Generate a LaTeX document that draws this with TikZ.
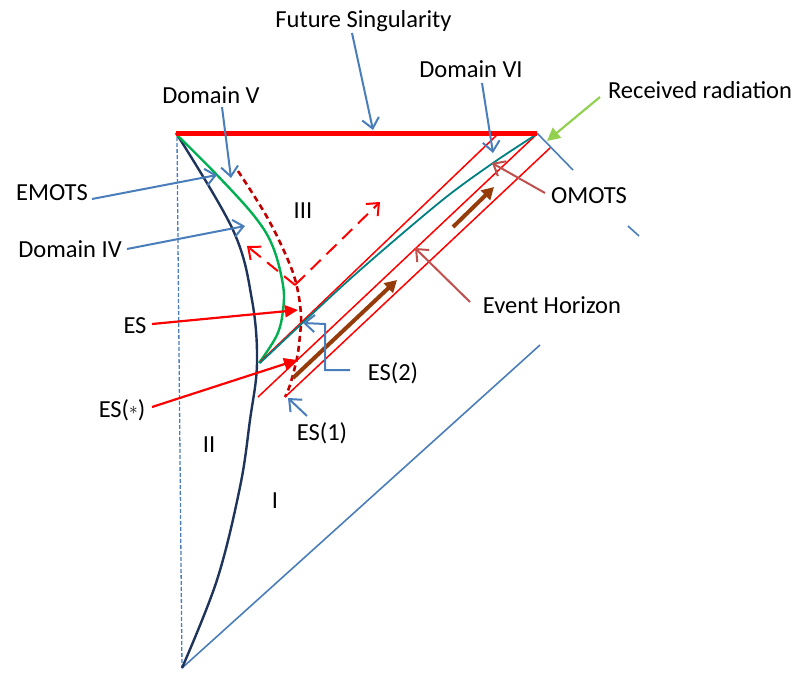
\documentclass[tikz,border=0pt]{standalone}
\usepackage{fontspec}
\setmainfont{Carlito}
\usetikzlibrary{arrows.meta,calc}
\definecolor{cblue}{RGB}{74,126,187}
\definecolor{cnavy}{RGB}{31,52,90}
\definecolor{cgreen}{RGB}{0,176,80}
\definecolor{cteal}{RGB}{0,128,128}
\definecolor{cdred}{RGB}{192,0,0}
\definecolor{cbrown}{RGB}{150,60,10}
\definecolor{cpink}{RGB}{192,80,77}
\definecolor{clime}{RGB}{146,208,80}
\begin{document}
\begin{tikzpicture}[x=1pt,y=-1pt,
  lbl/.style={font=\fontsize{24.5}{29}\selectfont, inner sep=0pt, anchor=base, text=black},
  callout/.style={draw=cblue, line width=2pt, -{Straight Barb[length=10pt,width=17pt]}},
  pinkcall/.style={draw=cpink, line width=2pt, -{Straight Barb[length=10pt,width=17pt]}},
  redcall/.style={draw=red, line width=2.2pt, -{Triangle[length=13pt,width=12pt]}},
  limecall/.style={draw=clime, line width=2.2pt, -{Triangle[length=13pt,width=13pt]}},
  brownarr/.style={draw=cbrown, line width=4pt, -{Triangle[length=12pt,width=13pt]}},
  ray/.style={draw=red, line width=1.5pt},
  reddash/.style={draw=red, line width=2pt, dash pattern=on 14pt off 8pt, -{Straight Barb[length=10pt,width=17pt]}},
  thinblue/.style={draw=cblue, line width=1.6pt}
]
\useasboundingbox (0,0) rectangle (807,673);

% key points
\coordinate (top) at (176,133);
\coordinate (topR) at (537,133);
\coordinate (bot) at (182,668);

% labels
\node[lbl] (fs) at (363.5,27) {Future Singularity};
\node[lbl] (d6) at (471,77) {Domain VI};
\node[lbl] (rr) at (700,98) {Received radiation};
\node[lbl] (d5) at (211,103) {Domain V};
\node[lbl] (emots) at (52,200) {EMOTS};
\node[lbl] (omots) at (589,203) {OMOTS};
\node[lbl] (r3) at (303,218) {III};
\node[lbl] (d4) at (70,257) {Domain IV};
\node[lbl] (eh) at (552,313) {Event Horizon};
\node[lbl] (es) at (135,333) {ES};
\node[lbl] (es2) at (393,380) {ES(2)};
\node[lbl] (esx) at (122,417) {ES(\raisebox{0.2ex}{\fontsize{16}{16}\selectfont$\ast$})};
\node[lbl] (es1) at (322,440) {ES(1)};
\node[lbl] (r2) at (209,452) {II};
\node[lbl] (r1) at (275,508) {I};

% dashed vertical
\draw[draw=cblue, line width=1.3pt, dash pattern=on 4pt off 2pt] (177,137) -- (bot);
% bottom blue line
\coordinate (blueEnd) at (540,345);
\draw[thinblue] (bot) -- (blueEnd);
% blue outer null line pieces
\coordinate (bq1) at (573,170);
\coordinate (bq2) at (628,226);
\coordinate (bq3) at (639,236);
\draw[thinblue] (topR) -- (bq1);
\draw[thinblue] (bq2) -- (bq3);

% navy curve
\draw[cnavy, line width=2.4pt] plot[smooth, tension=0.6] coordinates {(176,133) (233,230) (252,300) (257,363) (250,420) (240,487) (217,580) (182,668)};

% green curve
\coordinate (gEnd) at (259,363);
\draw[cgreen, line width=2.4pt] plot[smooth, tension=0.6] coordinates {(177,135) (217,175) (255,217) (273,247) (283,285) (283,310) (277,335) (259,363)};

% dark red dashed curve
\draw[cdred, line width=2.6pt, dash pattern=on 6pt off 4pt] plot[smooth, tension=0.6] coordinates {(238,171) (267,217) (288,260) (297,287) (301,315) (300,335) (297,358) (290,385) (285,397)};

% red rays
\coordinate (L1a) at (260,362);
\coordinate (L1b) at (499,133);
\coordinate (R1a) at (258,397);
\coordinate (R1b) at (537,134);
\coordinate (L4a) at (285,397);
\coordinate (L4b) at (550,148);
\draw[ray] (L1a) -- (L1b);
\draw[ray] (R1a) -- (R1b);
\draw[ray] (L4a) -- (L4b);

% teal curve
\draw[cteal, line width=1.8pt] plot[smooth, tension=0.5] coordinates {(260,363) (350,279) (440,202) (493,163) (537,134)};

% future singularity
\draw[red, line width=5pt] (top) -- (topR);

% brown arrows
\coordinate (b1a) at (293,378);
\coordinate (b1b) at (397,280);
\coordinate (b2a) at (453,227);
\coordinate (b2b) at (494,187);
\draw[brownarr] (b1a) -- (b1b);
\draw[brownarr] (b2a) -- (b2b);

% red dashed arrows
\coordinate (rd0) at (295,285);
\coordinate (rdR) at (380,202);
\coordinate (rdL) at (247,246);
\draw[reddash] (rd0) -- (rdR);
\draw[reddash] (rd0) -- (rdL);

% callouts
\coordinate (fsA) at (352,33);   \coordinate (fsB) at (373,130);
\draw[callout] (fsA) -- (fsB);
\coordinate (d6A) at (482,83);   \coordinate (d6B) at (493,153);
\draw[callout] (d6A) -- (d6B);
\coordinate (d5A) at (222,107);  \coordinate (d5B) at (231,178);
\draw[callout] (d5A) -- (d5B);
\coordinate (emA) at (92,199);   \coordinate (emB) at (217,175);
\draw[callout] (emA) -- (emB);
\coordinate (d4A) at (127,249);  \coordinate (d4B) at (245,226);
\draw[callout] (d4A) -- (d4B);
\coordinate (e1A) at (307,416);  \coordinate (e1B) at (288,398);
\draw[callout] (e1A) -- (e1B);
\coordinate (e2A) at (350,370);  \coordinate (e2B) at (303,323);
\draw[callout] (e2A) -- (325,370) -- (325,324) -- (e2B);

\coordinate (omA) at (545,193);  \coordinate (omB) at (492,163);
\draw[pinkcall] (omA) -- (omB);
\coordinate (ehA) at (470,302);  \coordinate (ehB) at (415,248);
\draw[pinkcall] (ehA) -- (ehB);

\coordinate (rrA) at (600,97);   \coordinate (rrB) at (547,141);
\draw[limecall] (rrA) -- (rrB);

\coordinate (esA) at (152,324);  \coordinate (esB) at (298,310);
\draw[redcall] (esA) -- (esB);
\coordinate (exA) at (152,407);  \coordinate (exB) at (297,360);
\draw[redcall] (exA) -- (exB);
\end{tikzpicture}
\end{document}
